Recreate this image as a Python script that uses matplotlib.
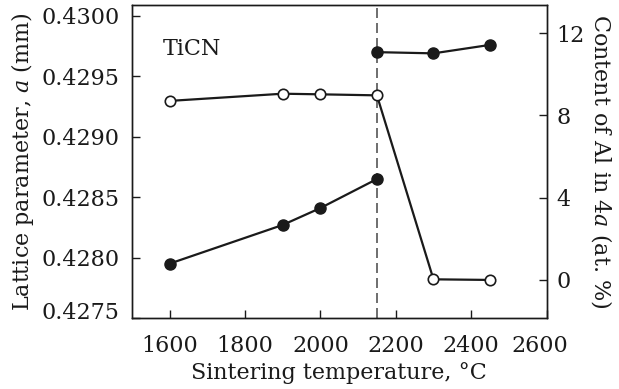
import matplotlib
matplotlib.use("Agg")
import matplotlib.pyplot as plt
import matplotlib.transforms as mtransforms

plt.rcParams["font.family"] = ["DejaVu Serif"]
plt.rcParams["mathtext.fontset"] = "dejavuserif"

# Sintering temperatures (°C)
temp_low = [1600, 1900, 2000, 2150]
temp_high = [2150, 2300, 2450]
temp_al = [1600, 1900, 2000, 2150, 2300, 2450]

# Lattice parameter a (mm), filled markers
lattice_low = [0.42795, 0.42827, 0.42841, 0.42865]
lattice_high = [0.42970, 0.42969, 0.42976]

# Al content in 4a sites (at. %), open markers
al_content = [8.7, 9.05, 9.02, 8.97, 0.03, 0.0]

boundary_temp = 2150

xticks = [1600, 1800, 2000, 2200, 2400, 2600]
yticks_left = [0.4275, 0.4280, 0.4285, 0.4290, 0.4295, 0.4300]
yticks_right = [0, 4, 8, 12]

fs = 16
ink = "#1a1a1a"

fig = plt.figure(figsize=(6.19, 3.89), dpi=100)
ax = fig.add_axes([0.2132, 0.1825, 0.6697, 0.8046])
ax2 = ax.twinx()

ax.set_xlim(1500, 2600)
ax.set_ylim(0.4275, 0.43009)
ax2.set_ylim(-1.85, 13.36)

ax.axvline(boundary_temp, color="#555555", lw=1.2, ls=(0, (6, 3)), zorder=1)

line_kw = dict(color=ink, lw=1.6, zorder=3)
ax.plot(temp_low, lattice_low, marker="o", ms=8, mfc=ink, mec=ink, **line_kw)
ax.plot(temp_high, lattice_high, marker="o", ms=8, mfc=ink, mec=ink, **line_kw)
ax2.plot(temp_al, al_content, marker="o", ms=7.5, mfc="white", mec=ink,
         mew=1.2, **line_kw)

ax.set_xticks(xticks)
ax.set_yticks(yticks_left)
ax.set_yticklabels([f"{v:.4f}" for v in yticks_left])
ax2.set_yticks(yticks_right)

for a in (ax, ax2):
    a.tick_params(direction="in", length=6, width=1.0, labelsize=fs,
                  colors=ink)
    for s in a.spines.values():
        s.set_linewidth(1.0)
        s.set_color(ink)
ax.tick_params(axis="y", right=False, pad=9)
ax.tick_params(axis="x", top=False, pad=12)
ax2.tick_params(axis="y", pad=7)

# nudge the corner labels away from the frame corners
xl = ax.get_xticklabels()
xl[-1].set_transform(xl[-1].get_transform() +
                     mtransforms.ScaledTranslation(-7 / 100, 0, fig.dpi_scale_trans))
yl = ax.get_yticklabels()
yl[0].set_transform(yl[0].get_transform() +
                    mtransforms.ScaledTranslation(0, 8 / 100, fig.dpi_scale_trans))

ax.set_xlabel("Sintering temperature, °C", fontsize=fs, color=ink, labelpad=4)
ax.set_ylabel(r"Lattice parameter, $\it{a}$ (mm)", fontsize=fs, color=ink,
              labelpad=4)
ax2.set_ylabel(r"Content of Al in 4$\it{a}$ (at. %)", fontsize=fs, color=ink,
               rotation=270, labelpad=21)

ax.text(1581, 0.42973, "TiCN", fontsize=fs, color=ink, va="center")

fig.savefig("out.png", dpi=100)
